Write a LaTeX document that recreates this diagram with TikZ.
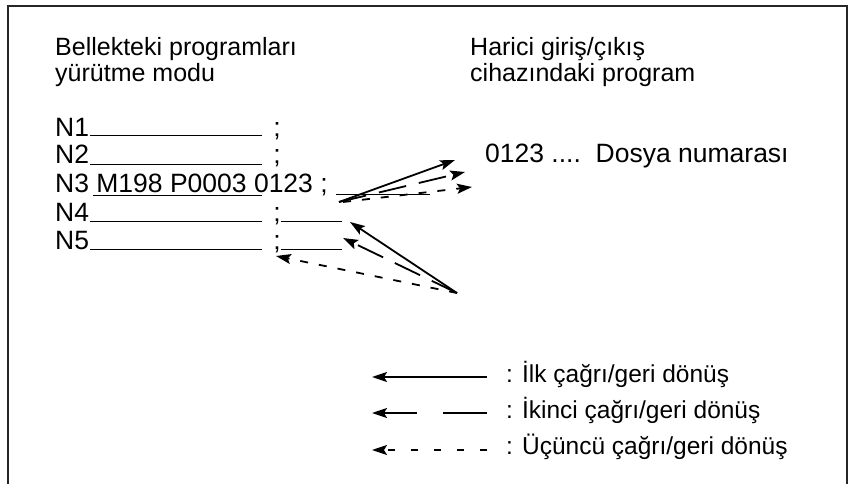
\documentclass[tikz,border=0pt]{standalone}
\usepackage{fontspec}
\setmainfont{Liberation Sans}
\usetikzlibrary{arrows.meta}

\tikzset{
  bigtext/.style={font=\fontsize{26.5}{28}\selectfont, inner sep=0pt, anchor=base west},
  smalltext/.style={font=\fontsize{25}{27}\selectfont, inner sep=0pt, anchor=base west},
  legtext/.style={font=\fontsize{24.5}{26}\selectfont, inner sep=0pt, anchor=base west},
  semi/.style={font=\fontsize{26.5}{28}\selectfont, inner sep=0pt, anchor=base},
  blank/.style={line width=1pt},
  call1/.style={line width=1.8pt, -{Stealth[length=15pt,width=10pt,inset=3pt]}},
  call2/.style={call1, dash pattern=on 28pt off 13pt},
  call3/.style={call1, dash pattern=on 8pt off 11pt},
}

\begin{document}
\begin{tikzpicture}[x=1pt,y=-1pt]
\useasboundingbox (0,0) rectangle (851,484);
\draw[line width=1.8pt, black!85] (8,484) -- (8,6) -- (847,6) -- (847,484);

% titles
\node[smalltext] (mem1) at (55,56) {Bellekteki programları};
\node[smalltext] (mem2) at (55,82) {yürütme modu};
\node[smalltext] (ext1) at (470,56) {Harici giriş/çıkış};
\node[smalltext] (ext2) at (470,82) {cihazındaki program};

% program in memory
\node[bigtext] (n1) at (55,136) {N1};
\node[bigtext] (n2) at (55,164) {N2};
\node[bigtext] (n3) at (55,192) {N3 M198 P0003 0123 ;};
\node[bigtext] (n4) at (55,221) {N4};
\node[bigtext] (n5) at (55,249) {N5};
\node[semi] (s1) at (277,136) {;};
\node[semi] (s2) at (277,164) {;};
\node[semi] (s4) at (277,221) {;};
\node[semi] (s5) at (277,249) {;};
\draw[blank] (90,136) -- (262,136);
\draw[blank] (90,164) -- (262,164);
\draw[blank] (93,195) -- (262,195);
\draw[blank] (336,194) -- (430,194);
\draw[blank] (90,221) -- (262,221);
\draw[blank] (281,221) -- (342,221);
\draw[blank] (90,249) -- (262,249);
\draw[blank] (281,249) -- (342,249);

% external program
\node[bigtext] (file) at (485,162) {0123 ....\ \ Dosya numarası};

% calls and returns
\coordinate (call) at (339,202);
\coordinate (back) at (457,293);
\coordinate (c1) at (455,160);
\coordinate (c2) at (465,172);
\coordinate (c3) at (472,187);
\coordinate (r1) at (350,222);
\coordinate (r2) at (343,238);
\coordinate (r3) at (276,256);
\draw[call1] (call) -- (c1);
\draw[call2] (call) -- (c2);
\draw[call3] ([xshift=4pt]call) -- (c3);
\draw[call1] (back) -- (r1);
\draw[call2] (back) -- (r2);
\draw[call3] (back) -- (r3);

% legend
\coordinate (l1) at (487,377);
\coordinate (l2) at (487,413);
\coordinate (l3) at (487,450);
\coordinate (k1) at (372,377);
\coordinate (k2) at (372,413);
\coordinate (k3) at (372,450);
\draw[call1] (l1) -- (k1);
\draw[call2, dash pattern=on 44pt off 26pt] (l2) -- (k2);
\draw[call3, dash pattern=on 7pt off 16pt] (l3) -- (k3);
\node[legtext] (t1) at (506,382) {: İlk çağrı/geri dönüş};
\node[legtext] (t2) at (506,418) {: İkinci çağrı/geri dönüş};
\node[legtext] (t3) at (506,454) {: Üçüncü çağrı/geri dönüş};
\end{tikzpicture}
\end{document}
